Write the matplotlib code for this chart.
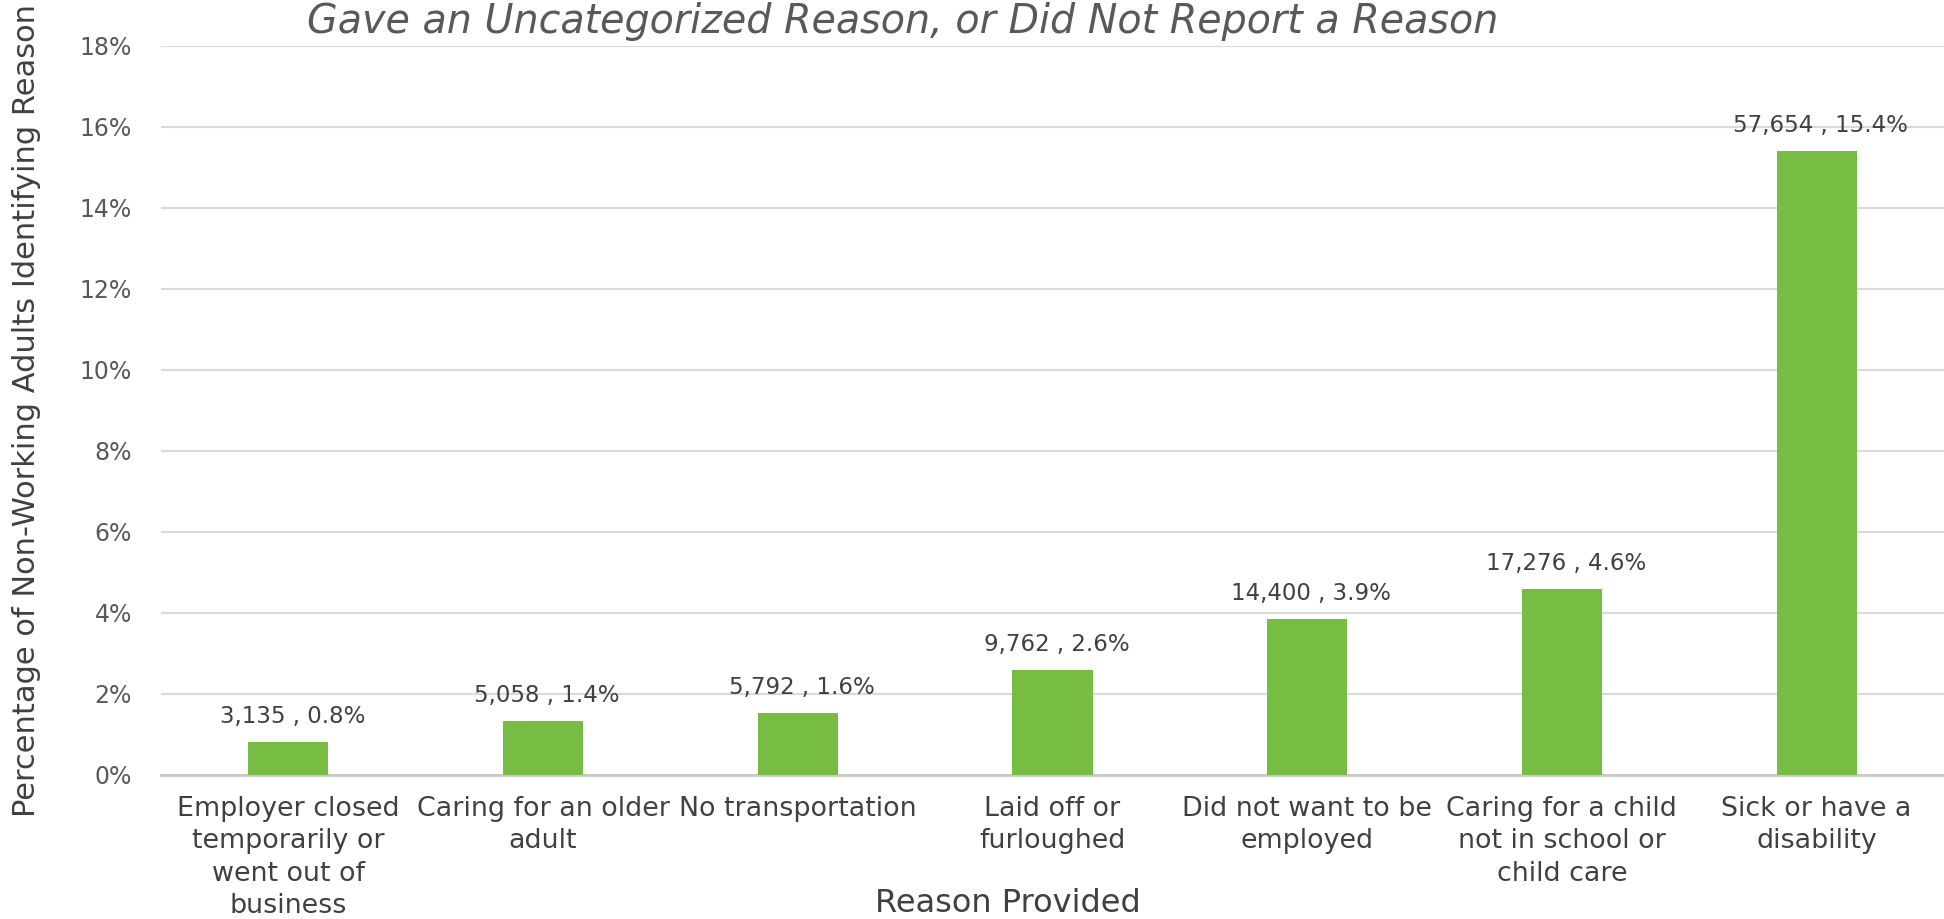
import matplotlib
matplotlib.use("Agg")
import matplotlib.pyplot as plt

# ── Data ──────────────────────────────────────────
reasons = [
    "Employer closed\ntemporarily or\nwent out of\nbusiness",
    "Caring for an older\nadult",
    "No transportation",
    "Laid off or\nfurloughed",
    "Did not want to be\nemployed",
    "Caring for a child\nnot in school or\nchild care",
    "Sick or have a\ndisability",
]
counts = [3135, 5058, 5792, 9762, 14400, 17276, 57654]
pct_labels = [0.8, 1.4, 1.6, 2.6, 3.9, 4.6, 15.4]
bar_heights = [0.82, 1.33, 1.54, 2.60, 3.85, 4.60, 15.40]
y_ticks = [0, 2, 4, 6, 8, 10, 12, 14, 16, 18]

GREEN = "#77bc43"
GRID = "#d9d9d9"
TEXT = "#404040"
TICK = "#595959"

plt.rcParams["font.family"] = ["DejaVu Sans"]

fig = plt.figure(figsize=(19.44, 9.19), dpi=100)
ax = fig.add_axes([0.0828, 0.1567, 0.9172, 0.7933])

x = list(range(len(reasons)))
ax.bar(x, bar_heights, width=0.315, color=GREEN, zorder=3)

for xi, h, c, p in zip(x, bar_heights, counts, pct_labels):
    ax.annotate(f"{c:,} , {p}%", (xi, h), xytext=(3, 10),
                textcoords="offset points", ha="center", va="bottom",
                fontsize=16.5, color=TEXT, zorder=4)

ax.set_xlim(-0.5, 6.5)
ax.set_ylim(0, 18)
ax.set_yticks(y_ticks)
ax.set_yticklabels([f"{t}%" for t in y_ticks])
ax.set_xticks(x)
ax.set_xticklabels(reasons, fontsize=19.4, color=TEXT, linespacing=1.32)

ax.tick_params(axis="y", length=0, pad=21, labelsize=17, labelcolor=TICK)
ax.tick_params(axis="x", length=0, pad=15)

ax.grid(axis="y", color=GRID, linewidth=1.5, zorder=0)
ax.set_axisbelow(True)
for side in ("top", "right", "left"):
    ax.spines[side].set_visible(False)
ax.spines["bottom"].set_color("#c8c8c8")
ax.spines["bottom"].set_linewidth(2)

ax.set_ylabel("Percentage of Non-Working Adults Identifying Reason",
              fontsize=22, color=TEXT)
ax.yaxis.set_label_coords(-0.067, 0.5)
ax.set_xlabel("Reason Provided", fontsize=23, color=TEXT)
ax.xaxis.label.set_va("center")
ax.xaxis.set_label_coords(0.475, -0.1756)

fig.text(0.4645, 0.998, "Gave an Uncategorized Reason, or Did Not Report a Reason",
         ha="center", va="top", fontsize=28.5, style="italic", color=TICK)

fig.savefig("out.png", dpi=100)
